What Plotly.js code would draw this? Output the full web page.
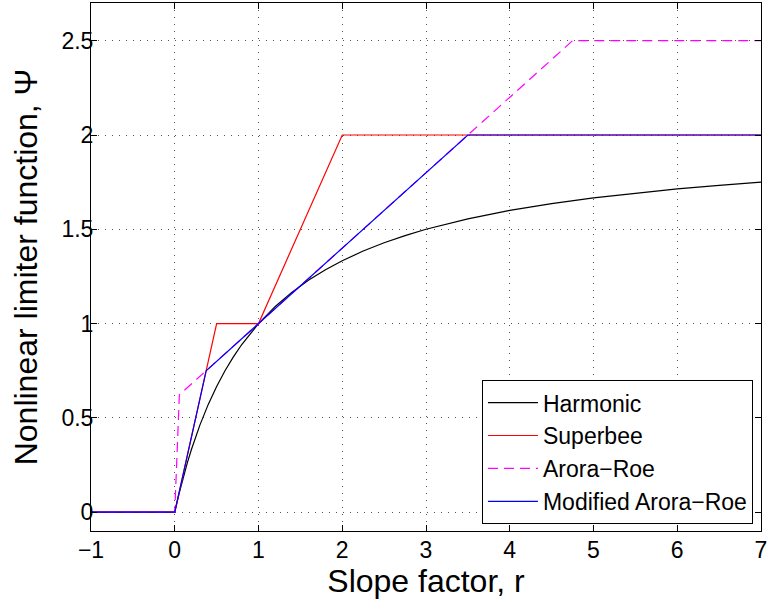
<!DOCTYPE html>
<html>
<head>
<meta charset="utf-8">
<script src="https://cdn.plot.ly/plotly-3.0.1.min.js"></script>
<style>html,body{margin:0;padding:0;background:#fff;}#chart{width:767px;height:600px;}</style>
</head>
<body>
<div id="chart"></div>
<script>
// Data
const harmonicR = [-1, 0, 0.05, 0.1, 0.15, 0.2, 0.3, 0.4, 0.5, 0.6, 0.7, 0.8, 0.9, 1, 1.2, 1.4, 1.6, 1.8, 2, 2.25, 2.5, 2.75, 3, 3.5, 4, 4.5, 5, 5.5, 6, 6.5, 7];
const harmonicPsi = [0, 0, 0.0952, 0.1818, 0.2609, 0.3333, 0.4615, 0.5714, 0.6667, 0.75, 0.8235, 0.8889, 0.9474, 1, 1.0909, 1.1667, 1.2308, 1.2857, 1.3333, 1.3846, 1.4286, 1.4667, 1.5, 1.5556, 1.6, 1.6364, 1.6667, 1.6923, 1.7143, 1.7333, 1.75];

const superbeeR = [-1, 0, 0.5, 1, 2, 7];
const superbeePsi = [0, 0, 1, 1, 2, 2];

const aroraRoeR = [-1, 0, 0.055, 4.75, 7];
const aroraRoePsi = [0, 0, 0.622, 2.5, 2.5];

const modAroraRoeR = [-1, 0, 0.375, 3.5, 7];
const modAroraRoePsi = [0, 0, 0.75, 2, 2];

const seriesNames = ['Harmonic', 'Superbee', 'Arora\u2212Roe', 'Modified Arora\u2212Roe'];
const xTicks = [-1, 0, 1, 2, 3, 4, 5, 6, 7];
const yTicks = [0, 0.5, 1, 1.5, 2, 2.5];

const font = 'Liberation Sans, Arial, Helvetica, sans-serif';

const traces = [
  {x: harmonicR, y: harmonicPsi, name: seriesNames[0], mode: 'lines', line: {color: '#000000', width: 1.2}},
  {x: superbeeR, y: superbeePsi, name: seriesNames[1], mode: 'lines', line: {color: '#ff0000', width: 1.2}},
  {x: aroraRoeR, y: aroraRoePsi, name: seriesNames[2], mode: 'lines', line: {color: '#ff00ff', width: 1.2, dash: '10px,6px'}},
  {x: modAroraRoeR, y: modAroraRoePsi, name: seriesNames[3], mode: 'lines', line: {color: '#0000ff', width: 1.2}}
];

const axisCommon = {
  showline: true, linecolor: '#000', linewidth: 1, mirror: 'all',
  ticks: 'inside', ticklen: 6, tickwidth: 1, tickcolor: '#000',
  showgrid: true, gridcolor: '#555', gridwidth: 1, griddash: '1px,6px',
  zeroline: false, ticklabeloverflow: 'allow',
  tickfont: {family: font, size: 23, color: '#000'}
};

const layout = {
  width: 767, height: 600,
  margin: {l: 91, r: 6, t: 3, b: 69},
  paper_bgcolor: '#fff', plot_bgcolor: '#fff',
  showlegend: true,
  legend: {
    x: 0.988, y: 0.013, xanchor: 'right', yanchor: 'bottom',
    bgcolor: '#fff', bordercolor: '#000', borderwidth: 1,
    font: {family: font, size: 23, color: '#000'},
    itemwidth: 50,
    tracegroupgap: 0
  },
  xaxis: Object.assign({}, axisCommon, {
    range: [-1, 7], tickvals: xTicks, ticktext: xTicks.map(v => v < 0 ? '\u2212' + Math.abs(v) : String(v)),
    ticklabelstandoff: -2,
    title: {text: 'Slope factor, r', font: {family: font, size: 32, color: '#000'}, standoff: 2}
  }),
  yaxis: Object.assign({}, axisCommon, {
    range: [-0.1, 2.7], tickvals: yTicks, ticktext: yTicks.map(v => String(v)),
    ticklabelstandoff: -8,
    title: {text: 'Nonlinear limiter function, \u03A8', font: {family: font, size: 32, color: '#000'}, standoff: 14}
  })
};

Plotly.newPlot('chart', traces, layout, {displayModeBar: false, staticPlot: true});
</script>
</body>
</html>
